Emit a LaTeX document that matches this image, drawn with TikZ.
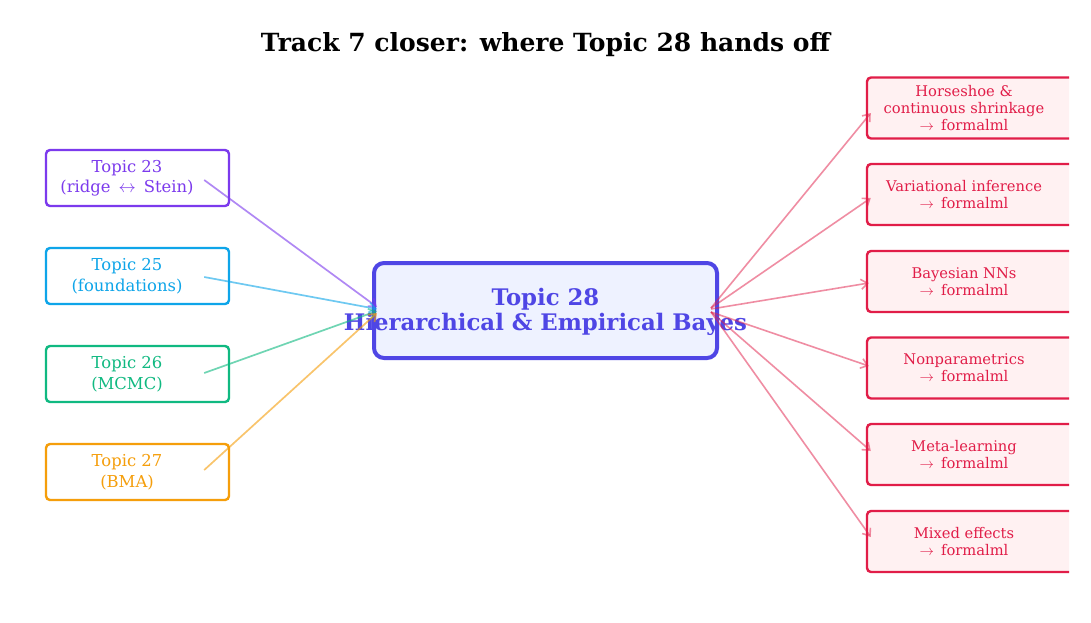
\documentclass[tikz,border=0pt]{standalone}
\usepackage{fontspec}
\setmainfont{DejaVu Serif}
\usetikzlibrary{arrows.meta,calc}
\definecolor{cpurple}{HTML}{7C3AED}
\definecolor{cblue}{HTML}{0EA5E9}
\definecolor{cgreen}{HTML}{10B981}
\definecolor{corange}{HTML}{F59E0B}
\definecolor{crose}{HTML}{E11D48}
\definecolor{crosefill}{HTML}{FFF1F2}
\definecolor{cindigo}{HTML}{4F46E5}
\definecolor{cindigofill}{HTML}{EEF2FF}
\tikzset{
  leftbox/.style={draw=#1, line width=2.4pt, rounded corners=4pt, fill=white,
    minimum width=183pt, minimum height=56pt, inner sep=0pt},
  lefttext/.style={text=#1, align=center, font=\fontsize{16.4}{20.5}\selectfont, inner sep=0pt},
  rightbox/.style={draw=crose, line width=2.4pt, rounded corners=4pt, fill=crosefill,
    minimum width=214pt, minimum height=61pt, inner sep=0pt},
  righttext/.style={text=crose, align=center, font=\fontsize{14.7}{17}\selectfont, inner sep=0pt},
  inarrow/.style={draw=#1, draw opacity=0.6, line width=1.7pt,
    -{Straight Barb[length=6.5pt,width=10pt]}},
  outarrow/.style={draw=crose, draw opacity=0.5, line width=1.6pt,
    -{Straight Barb[length=6.5pt,width=10pt]}},
}
\begin{document}
\begin{tikzpicture}[x=1pt,y=-1pt]
\useasboundingbox (0,0) rectangle (1091,622);
\fill[white] (0,0) rectangle (1091,622);

% title
\node[anchor=base, inner sep=0pt, font=\fontsize{25}{30}\selectfont\bfseries] (title) at (545.5,51) {Track 7 closer: where Topic 28 hands off};

% center box
\node[draw=cindigo, line width=4pt, rounded corners=10pt, fill=cindigofill,
  minimum width=343pt, minimum height=95pt, inner sep=0pt] (c) at (545.5,310.5) {};
\node[text=cindigo, align=center, inner sep=0pt, font=\fontsize{22.8}{25.5}\selectfont\bfseries] (ct) at (545.5,312) {Topic 28\\Hierarchical \& Empirical Bayes};

% left boxes
\node[leftbox=cpurple] (t23) at (137.5,178) {};
\node[leftbox=cblue]   (t25) at (137.5,276) {};
\node[leftbox=corange] (t27) at (137.5,472) {};
\node[leftbox=cgreen]  (t26) at (137.5,374) {};
\node[lefttext=cpurple] (t23t) at (127,178) {Topic 23\\(ridge\, $\leftrightarrow$\, Stein)};
\node[lefttext=cblue]   (t25t) at (127,276) {Topic 25\\(foundations)};
\node[lefttext=cgreen]  (t26t) at (127,374) {Topic 26\\(MCMC)};
\node[lefttext=corange] (t27t) at (127,472) {Topic 27\\(BMA)};

% right boxes (clipped at right edge)
\begin{scope}
\clip (0,0) rectangle (1069,622);
\node[rightbox] (r1) at (974,108) {};
\node[rightbox] (r2) at (974,194.5) {};
\node[rightbox] (r3) at (974,281.5) {};
\node[rightbox] (r4) at (974,368) {};
\node[rightbox] (r5) at (974,454.5) {};
\node[rightbox] (r6) at (974,541.5) {};
\end{scope}
\node[righttext] (r1t) at (964,108) {Horseshoe \&\\continuous shrinkage\\$\rightarrow$\, formalml};
\node[righttext] (r2t) at (964,194.5) {Variational inference\\$\rightarrow$\, formalml};
\node[righttext] (r3t) at (964,281.5) {Bayesian NNs\\$\rightarrow$\, formalml};
\node[righttext] (r4t) at (964,368) {Nonparametrics\\$\rightarrow$\, formalml};
\node[righttext] (r5t) at (964,454.5) {Meta-learning\\$\rightarrow$\, formalml};
\node[righttext] (r6t) at (964,541.5) {Mixed effects\\$\rightarrow$\, formalml};

% incoming arrows
\draw[inarrow=cpurple] ($(t23.east)+(-26,2)$) -- ($(c.west)+(5,-3.5)$);
\draw[inarrow=cblue]   ($(t25.east)+(-26,1)$) -- ($(c.west)+(5,-1.5)$);
\draw[inarrow=cgreen]  ($(t26.east)+(-26,-1)$) -- ($(c.west)+(5,0.5)$);
\draw[inarrow=corange] ($(t27.east)+(-26,-2)$) -- ($(c.west)+(5,2.5)$);

% outgoing arrows
\draw[outarrow] ($(c.east)+(-8,-2.5)$) -- ($(r1.west)+(5,5)$);
\draw[outarrow] ($(c.east)+(-8,-2.5)$) -- ($(r2.west)+(5,3.5)$);
\draw[outarrow] ($(c.east)+(-8,-1.5)$) -- ($(r3.west)+(3,1.5)$);
\draw[outarrow] ($(c.east)+(-8,1.5)$) -- ($(r4.west)+(3,-2)$);
\draw[outarrow] ($(c.east)+(-8,1.5)$) -- ($(r5.west)+(5,-3.5)$);
\draw[outarrow] ($(c.east)+(-8,1.5)$) -- ($(r6.west)+(5,-4.5)$);
\end{tikzpicture}
\end{document}
